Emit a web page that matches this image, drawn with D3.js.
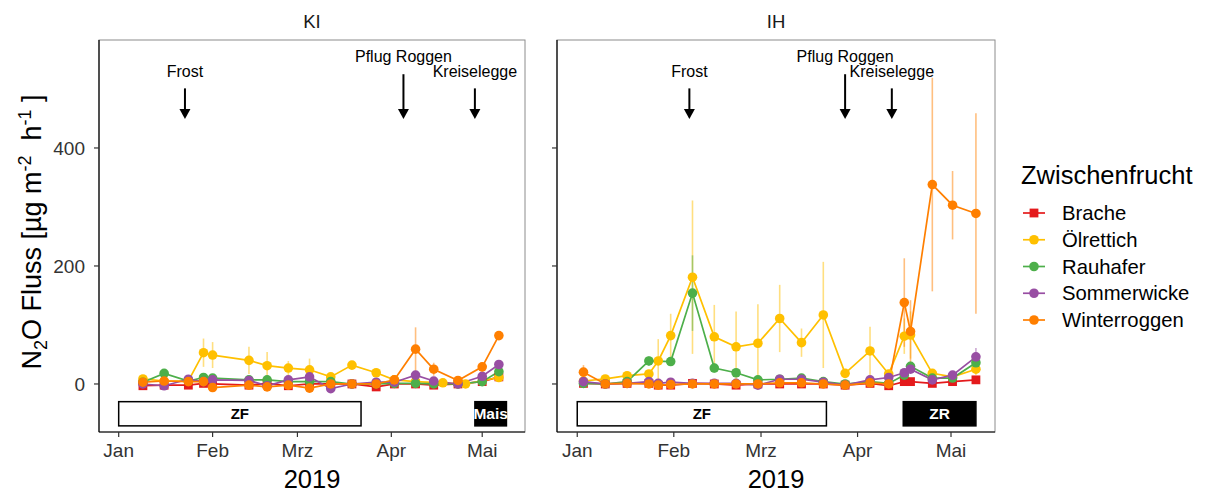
<!DOCTYPE html>
<html><head><meta charset="utf-8">
<script src="https://cdn.jsdelivr.net/npm/d3@7"></script>
<style>
body{margin:0;background:#fff;}
text{font-family:"Liberation Sans",Arial,sans-serif;fill:#000;}
</style>
</head><body>
<svg id="c" width="1205" height="492"></svg>
<script>
// ---------------- DATA ----------------
const series = ["Brache","Ölrettich","Rauhafer","Sommerwicke","Winterroggen"];
const colors = ["#E41A1C","#FFC000","#4DAF4A","#984EA3","#FF7F00"];
const panels = ["KI","IH"];
const monthTicks = ["2019-01-01","2019-02-01","2019-03-01","2019-04-01","2019-05-01"];
const monthLabels = ["Jan","Feb","Mrz","Apr","Mai"];
const yTicks = [0,200,400];

const datesKI = ["2019-01-09","2019-01-16","2019-01-24","2019-01-29","2019-02-01","2019-02-13","2019-02-19","2019-02-26","2019-03-05","2019-03-12","2019-03-19","2019-03-27","2019-04-02","2019-04-09","2019-04-15","2019-04-18","2019-04-23","2019-04-25T12:00","2019-05-01","2019-05-06T12:00"];
const bracheKI   = [-3,-2,-2, 1, 0,-2, 1,-3, 0, 0, 0,-5, 0, 0,-2,null, 0,null, 4,12];
const oelKI      = [8.5,5, 5,53,49,40,31,27,24,12,32,19, 7, 4,null,2,null, 0,null,11];
const rauKI      = [3,18, 5,11,10, 7, 7, 4, 4, 4, 0, 0, 1, 1, 0,null, 0,null, 4,21];
const sommerKI   = [0,-3, 8, 4, 7, 6,-3, 7,12,-8, 0, 3, 3,15, 5,null, 0,null,13,33];
const winterKI   = [3, 5, 4, 4,-6,-2,-5,-2,-7, 0, 0, 0, 7,59,25,null, 6,null,29,82];
const oelErrKI    = [3,2,2,24,22,23,23,12,19,4,5,4,3,2,2,2,2,2,3,4];
const winterErrKI = [2,2,2,2,2,2,2,2,2,2,2,2,3,37,11,2,3,2,8,6];
const rauErrKI    = [2,3,2,3,3,2,2,2,2,2,2,2,2,2,2,2,2,2,2,4];
const sommerErrKI = [2,2,2,2,2,2,2,2,3,2,2,2,2,3,2,2,2,2,3,5];
const bracheErrKI = [1,1,1,1,1,1,1,1,1,1,1,1,1,1,1,1,1,1,1,2];

const datesIH = ["2019-01-03","2019-01-10","2019-01-17","2019-01-24","2019-01-27","2019-01-31","2019-02-07","2019-02-14","2019-02-21","2019-02-28","2019-03-07","2019-03-14","2019-03-21","2019-03-28","2019-04-05","2019-04-11","2019-04-16","2019-04-18","2019-04-25","2019-05-01T12:00","2019-05-09"];
const bracheIH   = [1, 0, 1, 1,-2,-2, 1, 0,-2, 0, 0, 0, 0,-2, 1,-3, 4, 4, 1, 4, 7];
const oelIH      = [5,8.5,14,17,39,82,181,80,63,69,111,70,117,18,56,17,81,83,18,12,25];
const rauIH      = [1, 0, 4,39,null,38,154,27,19, 7, 8,10, 4, 0, 4, 1,15,30,10,10,36];
const sommerIH   = [4, 0, 1, 4, 1, 3, 1, 1, 1,-2, 8, 8, 3,-2, 7,11,19,25, 7,15,46];
const winterIH   = [20,0, 1, 0,-2,-1, 0, 0, 0, 0, 2, 2, 0,-2, 2, 0,138,89,338,303,289];
const oelErrIH    = [2,3,5,6,37,37,130,54,60,66,57,24,90,5,41,4,30,40,5,4,10];
const winterErrIH = [12,2,2,2,2,2,2,2,2,2,2,2,2,2,3,2,75,53,181,58,170];
const rauErrIH    = [1,1,2,8,6,6,64,8,5,3,3,4,2,1,2,1,6,8,4,4,8];
const sommerErrIH = [2,1,1,2,1,2,1,1,1,2,3,3,2,2,3,4,5,6,3,5,15];
const bracheErrIH = [1,1,1,1,1,1,1,1,1,1,1,1,1,1,1,1,2,2,1,2,2];

const annLabels = ["Frost","Pflug Roggen","Kreiselegge"];
const annDatesKI = ["2019-01-22T21:00","2019-04-05T00:00","2019-04-28T14:00"];
const annDatesIH = ["2019-02-06T00:00","2019-03-28T00:00","2019-04-12T00:00"];
const annTextY  = [520, 546, 520];
const annStartY = [501, 525, 501];
const annTipY   = [449, 449, 449];

const zfDates = ["2019-01-01","2019-03-22"];
const cropLabels = ["Mais","ZR"];
const cropDatesKI = ["2019-04-28T14:00","2019-05-09"];
const cropDatesIH = ["2019-04-15T16:00","2019-05-09"];
const boxY = [-30, -71];

// ---------------- SETUP ----------------
const parse = s => new Date(s.length === 10 ? s + "T00:00:00Z" : s + ":00Z");
const svg = d3.select("#c");
const panelTop = 40, panelBottom = 432;
const panelX = { KI: [99, 525], IH: [557, 995] };
const xDomain = [new Date(Date.UTC(2018,11,25,12)), new Date(Date.UTC(2019,4,15,3))];
const y = d3.scaleLinear().domain([-81.4, 583]).range([panelBottom, panelTop]);

const data = {
  KI: { dates: datesKI, vals: [bracheKI, oelKI, rauKI, sommerKI, winterKI],
        errs: [bracheErrKI, oelErrKI, rauErrKI, sommerErrKI, winterErrKI],
        ann: annDatesKI, crop: cropDatesKI, cropLabel: cropLabels[0] },
  IH: { dates: datesIH, vals: [bracheIH, oelIH, rauIH, sommerIH, winterIH],
        errs: [bracheErrIH, oelErrIH, rauErrIH, sommerErrIH, winterErrIH],
        ann: annDatesIH, crop: cropDatesIH, cropLabel: cropLabels[1] }
};

function drawPoint(g, cx, cy, i, r) {
  if (i === 0) {
    g.append("rect").attr("x", cx - r).attr("y", cy - r).attr("width", 2*r).attr("height", 2*r)
      .attr("fill", colors[i]);
  } else {
    g.append("circle").attr("cx", cx).attr("cy", cy).attr("r", r).attr("fill", colors[i]);
  }
}

panels.forEach((p, pi) => {
  const [x0, x1] = panelX[p];
  const x = d3.scaleUtc().domain(xDomain).range([x0, x1]);
  const D = data[p];
  const g = svg.append("g");

  g.append("rect").attr("x", x0).attr("y", panelTop).attr("width", x1 - x0).attr("height", panelBottom - panelTop)
    .attr("fill", "white").attr("stroke", "#8c8c8c").attr("stroke-width", 1);

  g.append("text").attr("x", (x0 + x1) / 2).attr("y", 28).attr("text-anchor", "middle")
    .style("font-size", "18.5px").style("fill", "#1a1a1a").text(p);

  const dates = D.dates.map(parse);

  D.vals.forEach((vals, i) => {
    vals.forEach((v, j) => {
      if (v == null) return;
      const e = D.errs[i][j];
      g.append("line").attr("x1", x(dates[j])).attr("x2", x(dates[j]))
        .attr("y1", y(v - e)).attr("y2", y(v + e))
        .attr("stroke", colors[i]).attr("stroke-width", 1.6).attr("stroke-opacity", 0.5);
    });
  });
  D.vals.forEach((vals, i) => {
    const pts = vals.map((v, j) => [dates[j], v]).filter(d => d[1] != null);
    g.append("path").attr("d", d3.line().x(d => x(d[0])).y(d => y(d[1]))(pts))
      .attr("fill", "none").attr("stroke", colors[i]).attr("stroke-width", 1.7);
  });
  D.vals.forEach((vals, i) => {
    vals.forEach((v, j) => {
      if (v == null) return;
      drawPoint(g, x(dates[j]), y(v), i, i === 0 ? 4.4 : 4.8);
    });
  });

  annLabels.forEach((lab, k) => {
    const ax = x(parse(D.ann[k]));
    g.append("text").attr("x", ax).attr("y", y(annTextY[k])).attr("text-anchor", "middle")
      .style("font-size", "16px").text(lab);
    const tip = y(annTipY[k]);
    g.append("line").attr("x1", ax).attr("x2", ax).attr("y1", y(annStartY[k])).attr("y2", tip - 8)
      .attr("stroke", "black").attr("stroke-width", 2);
    g.append("path").attr("d", `M${ax - 5.5},${tip - 10}L${ax + 5.5},${tip - 10}L${ax},${tip}Z`).attr("fill", "black");
  });

  const zx0 = x(parse(zfDates[0])), zx1 = x(parse(zfDates[1]));
  g.append("rect").attr("x", zx0).attr("y", y(boxY[0])).attr("width", zx1 - zx0).attr("height", y(boxY[1]) - y(boxY[0]))
    .attr("fill", "white").attr("stroke", "black").attr("stroke-width", 1.5);
  g.append("text").attr("x", (zx0 + zx1) / 2).attr("y", y((boxY[0] + boxY[1]) / 2) + 5.5)
    .attr("text-anchor", "middle").style("font-size", "15px").style("font-weight", "bold").text("ZF");
  const cx0 = x(parse(D.crop[0])), cx1 = x(parse(D.crop[1]));
  g.append("rect").attr("x", cx0).attr("y", y(boxY[0])).attr("width", cx1 - cx0).attr("height", y(boxY[1]) - y(boxY[0]))
    .attr("fill", "black").attr("stroke", "black").attr("stroke-width", 1.5);
  g.append("text").attr("x", (cx0 + cx1) / 2).attr("y", y((boxY[0] + boxY[1]) / 2) + 5.5)
    .attr("text-anchor", "middle").style("font-size", "15.5px").style("font-weight", "bold")
    .style("fill", "white").text(D.cropLabel);

  g.append("line").attr("x1", x0).attr("x2", x0).attr("y1", panelTop).attr("y2", panelBottom)
    .attr("stroke", "black").attr("stroke-width", 1.2);
  g.append("line").attr("x1", x0).attr("x2", x1).attr("y1", panelBottom).attr("y2", panelBottom)
    .attr("stroke", "black").attr("stroke-width", 1.2);

  monthTicks.forEach((m, k) => {
    const tx = x(parse(m));
    g.append("line").attr("x1", tx).attr("x2", tx).attr("y1", panelBottom).attr("y2", panelBottom + 5)
      .attr("stroke", "#333").attr("stroke-width", 1.2);
    g.append("text").attr("x", tx).attr("y", panelBottom + 25).attr("text-anchor", "middle")
      .style("font-size", "19px").style("fill", "#333").text(monthLabels[k]);
  });
  yTicks.forEach(t => {
    g.append("line").attr("x1", x0 - 5).attr("x2", x0).attr("y1", y(t)).attr("y2", y(t))
      .attr("stroke", "#333").attr("stroke-width", 1.2);
    if (pi === 0) {
      g.append("text").attr("x", x0 - 14).attr("y", y(t) + 6.8).attr("text-anchor", "end")
        .style("font-size", "19px").style("fill", "#333").text(t);
    }
  });
  g.append("text").attr("x", (x0 + x1) / 2).attr("y", 488).attr("text-anchor", "middle")
    .style("font-size", "25.5px").text("2019");
});

const yt = svg.append("text").attr("transform", "translate(41,232) rotate(-90)")
  .attr("text-anchor", "middle").style("font-size", "27px").style("white-space", "pre");
yt.append("tspan").text("N");
yt.append("tspan").attr("dy", 6).style("font-size", "18px").text("2");
yt.append("tspan").attr("dy", -6).text("O Fluss [µg m");
yt.append("tspan").attr("dy", -10).style("font-size", "18px").text("-2");
yt.append("tspan").attr("dy", 10).text("  h");
yt.append("tspan").attr("dy", -10).style("font-size", "18px").text("-1");
yt.append("tspan").attr("dy", 10).text(" ]");

const lg = svg.append("g");
lg.append("text").attr("x", 1021).attr("y", 184).style("font-size", "25.5px").text("Zwischenfrucht");
const legendY = d3.scalePoint().domain(series).range([213, 320]);
series.forEach((s, i) => {
  const ly = legendY(s);
  lg.append("line").attr("x1", 1023).attr("x2", 1045).attr("y1", ly).attr("y2", ly)
    .attr("stroke", colors[i]).attr("stroke-width", 1.7);
  drawPoint(lg, 1034, ly, i, i === 0 ? 4.4 : 4.8);
  lg.append("text").attr("x", 1062).attr("y", ly + 7).style("font-size", "20.3px").text(s);
});
</script>
</body></html>
